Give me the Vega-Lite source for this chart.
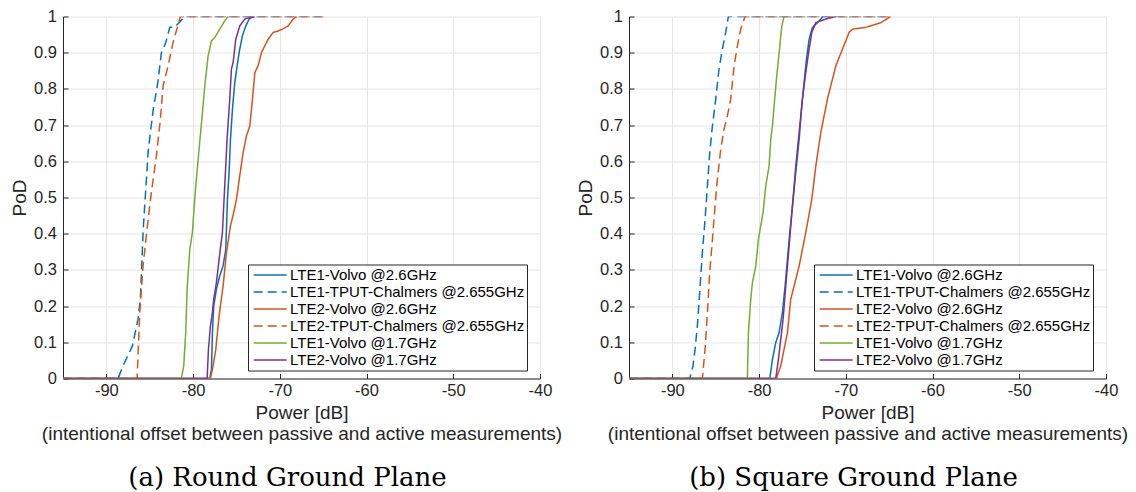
{
  "$schema": "https://vega.github.io/schema/vega-lite/v6.json",
  "background": "white",
  "padding": {"left": 10, "top": 8.5, "right": 5, "bottom": 5},
  "config": {
    "view": {"stroke": null},
    "font": "Liberation Sans",
    "axis": {
      "domainColor": "#262626", "domainWidth": 1,
      "tickColor": "#262626", "tickSize": -5, "tickWidth": 1,
      "labelFont": "Liberation Sans", "labelFontSize": 16.5, "labelColor": "#262626",
      "titleFont": "Liberation Sans", "titleFontSize": 19, "titleFontWeight": "normal", "titleColor": "#262626",
      "gridColor": "#e5e5e5", "gridWidth": 1,
      "labelFlush": false, "labelOverlap": false, "labelBound": false
    },
    "legend": {
      "orient": "none", "legendX": 185, "legendY": 248,
      "symbolType": "M-2.2,0L2.2,0", "symbolSize": 225, "symbolStrokeWidth": 1.5, "symbolOffset": 11.7,
      "labelFont": "Liberation Sans", "labelFontSize": 15, "labelColor": "#000000", "labelOffset": 11.3,
      "padding": 2, "rowPadding": 0,
      "strokeColor": "#262626", "fillColor": "white", "cornerRadius": 0, "labelLimit": 400
    }
  },
  "data": {"values": [
    {"p":"a","s":"LTE1-Volvo @2.6GHz","x":-95,"y":0},{"p":"a","s":"LTE1-Volvo @2.6GHz","x":-78.08,"y":0},{"p":"a","s":"LTE1-Volvo @2.6GHz","x":-77.88,"y":0.026},{"p":"a","s":"LTE1-Volvo @2.6GHz","x":-77.77,"y":0.127},{"p":"a","s":"LTE1-Volvo @2.6GHz","x":-77.62,"y":0.2},{"p":"a","s":"LTE1-Volvo @2.6GHz","x":-77.31,"y":0.247},{"p":"a","s":"LTE1-Volvo @2.6GHz","x":-76.92,"y":0.284},{"p":"a","s":"LTE1-Volvo @2.6GHz","x":-76.54,"y":0.311},{"p":"a","s":"LTE1-Volvo @2.6GHz","x":-76.23,"y":0.357},{"p":"a","s":"LTE1-Volvo @2.6GHz","x":-76.04,"y":0.495},{"p":"a","s":"LTE1-Volvo @2.6GHz","x":-75.85,"y":0.569},{"p":"a","s":"LTE1-Volvo @2.6GHz","x":-75.69,"y":0.661},{"p":"a","s":"LTE1-Volvo @2.6GHz","x":-75.46,"y":0.744},{"p":"a","s":"LTE1-Volvo @2.6GHz","x":-75.19,"y":0.818},{"p":"a","s":"LTE1-Volvo @2.6GHz","x":-74.92,"y":0.864},{"p":"a","s":"LTE1-Volvo @2.6GHz","x":-74.62,"y":0.91},{"p":"a","s":"LTE1-Volvo @2.6GHz","x":-74.31,"y":0.947},{"p":"a","s":"LTE1-Volvo @2.6GHz","x":-73.92,"y":0.974},{"p":"a","s":"LTE1-Volvo @2.6GHz","x":-73.54,"y":0.993},{"p":"a","s":"LTE1-Volvo @2.6GHz","x":-73.08,"y":1},
    {"p":"a","s":"LTE1-TPUT-Chalmers @2.655GHz","x":-95,"y":0},{"p":"a","s":"LTE1-TPUT-Chalmers @2.655GHz","x":-88.65,"y":0},{"p":"a","s":"LTE1-TPUT-Chalmers @2.655GHz","x":-88.08,"y":0.035},{"p":"a","s":"LTE1-TPUT-Chalmers @2.655GHz","x":-87.0,"y":0.09},{"p":"a","s":"LTE1-TPUT-Chalmers @2.655GHz","x":-86.35,"y":0.164},{"p":"a","s":"LTE1-TPUT-Chalmers @2.655GHz","x":-86.08,"y":0.219},{"p":"a","s":"LTE1-TPUT-Chalmers @2.655GHz","x":-85.92,"y":0.311},{"p":"a","s":"LTE1-TPUT-Chalmers @2.655GHz","x":-85.77,"y":0.403},{"p":"a","s":"LTE1-TPUT-Chalmers @2.655GHz","x":-85.58,"y":0.477},{"p":"a","s":"LTE1-TPUT-Chalmers @2.655GHz","x":-85.38,"y":0.551},{"p":"a","s":"LTE1-TPUT-Chalmers @2.655GHz","x":-85.19,"y":0.624},{"p":"a","s":"LTE1-TPUT-Chalmers @2.655GHz","x":-84.92,"y":0.68},{"p":"a","s":"LTE1-TPUT-Chalmers @2.655GHz","x":-84.54,"y":0.753},{"p":"a","s":"LTE1-TPUT-Chalmers @2.655GHz","x":-84.12,"y":0.808},{"p":"a","s":"LTE1-TPUT-Chalmers @2.655GHz","x":-83.65,"y":0.9},{"p":"a","s":"LTE1-TPUT-Chalmers @2.655GHz","x":-83.15,"y":0.928},{"p":"a","s":"LTE1-TPUT-Chalmers @2.655GHz","x":-82.69,"y":0.97},{"p":"a","s":"LTE1-TPUT-Chalmers @2.655GHz","x":-82.12,"y":0.97},{"p":"a","s":"LTE1-TPUT-Chalmers @2.655GHz","x":-80.96,"y":1},{"p":"a","s":"LTE1-TPUT-Chalmers @2.655GHz","x":-65,"y":1},
    {"p":"a","s":"LTE2-Volvo @2.6GHz","x":-95,"y":0},{"p":"a","s":"LTE2-Volvo @2.6GHz","x":-78.0,"y":0},{"p":"a","s":"LTE2-Volvo @2.6GHz","x":-77.69,"y":0.035},{"p":"a","s":"LTE2-Volvo @2.6GHz","x":-77.38,"y":0.081},{"p":"a","s":"LTE2-Volvo @2.6GHz","x":-77.0,"y":0.173},{"p":"a","s":"LTE2-Volvo @2.6GHz","x":-76.54,"y":0.256},{"p":"a","s":"LTE2-Volvo @2.6GHz","x":-76.15,"y":0.348},{"p":"a","s":"LTE2-Volvo @2.6GHz","x":-75.69,"y":0.422},{"p":"a","s":"LTE2-Volvo @2.6GHz","x":-75.31,"y":0.459},{"p":"a","s":"LTE2-Volvo @2.6GHz","x":-75.0,"y":0.495},{"p":"a","s":"LTE2-Volvo @2.6GHz","x":-74.62,"y":0.56},{"p":"a","s":"LTE2-Volvo @2.6GHz","x":-74.23,"y":0.624},{"p":"a","s":"LTE2-Volvo @2.6GHz","x":-73.85,"y":0.67},{"p":"a","s":"LTE2-Volvo @2.6GHz","x":-73.46,"y":0.698},{"p":"a","s":"LTE2-Volvo @2.6GHz","x":-73.15,"y":0.772},{"p":"a","s":"LTE2-Volvo @2.6GHz","x":-72.88,"y":0.845},{"p":"a","s":"LTE2-Volvo @2.6GHz","x":-72.5,"y":0.864},{"p":"a","s":"LTE2-Volvo @2.6GHz","x":-72.12,"y":0.9},{"p":"a","s":"LTE2-Volvo @2.6GHz","x":-71.73,"y":0.919},{"p":"a","s":"LTE2-Volvo @2.6GHz","x":-71.35,"y":0.937},{"p":"a","s":"LTE2-Volvo @2.6GHz","x":-70.77,"y":0.956},{"p":"a","s":"LTE2-Volvo @2.6GHz","x":-70.19,"y":0.96},{"p":"a","s":"LTE2-Volvo @2.6GHz","x":-69.69,"y":0.965},{"p":"a","s":"LTE2-Volvo @2.6GHz","x":-69.04,"y":0.974},{"p":"a","s":"LTE2-Volvo @2.6GHz","x":-68.46,"y":0.993},{"p":"a","s":"LTE2-Volvo @2.6GHz","x":-68.0,"y":1},
    {"p":"a","s":"LTE2-TPUT-Chalmers @2.655GHz","x":-95,"y":0},{"p":"a","s":"LTE2-TPUT-Chalmers @2.655GHz","x":-86.46,"y":0},{"p":"a","s":"LTE2-TPUT-Chalmers @2.655GHz","x":-86.15,"y":0.182},{"p":"a","s":"LTE2-TPUT-Chalmers @2.655GHz","x":-85.77,"y":0.311},{"p":"a","s":"LTE2-TPUT-Chalmers @2.655GHz","x":-85.31,"y":0.413},{"p":"a","s":"LTE2-TPUT-Chalmers @2.655GHz","x":-84.81,"y":0.514},{"p":"a","s":"LTE2-TPUT-Chalmers @2.655GHz","x":-84.23,"y":0.615},{"p":"a","s":"LTE2-TPUT-Chalmers @2.655GHz","x":-83.77,"y":0.716},{"p":"a","s":"LTE2-TPUT-Chalmers @2.655GHz","x":-83.46,"y":0.808},{"p":"a","s":"LTE2-TPUT-Chalmers @2.655GHz","x":-82.88,"y":0.864},{"p":"a","s":"LTE2-TPUT-Chalmers @2.655GHz","x":-82.31,"y":0.928},{"p":"a","s":"LTE2-TPUT-Chalmers @2.655GHz","x":-81.46,"y":1},{"p":"a","s":"LTE2-TPUT-Chalmers @2.655GHz","x":-65,"y":1},
    {"p":"a","s":"LTE1-Volvo @1.7GHz","x":-95,"y":0},{"p":"a","s":"LTE1-Volvo @1.7GHz","x":-81.35,"y":0},{"p":"a","s":"LTE1-Volvo @1.7GHz","x":-81.08,"y":0.035},{"p":"a","s":"LTE1-Volvo @1.7GHz","x":-80.85,"y":0.127},{"p":"a","s":"LTE1-Volvo @1.7GHz","x":-80.69,"y":0.247},{"p":"a","s":"LTE1-Volvo @1.7GHz","x":-80.38,"y":0.357},{"p":"a","s":"LTE1-Volvo @1.7GHz","x":-80.08,"y":0.403},{"p":"a","s":"LTE1-Volvo @1.7GHz","x":-79.92,"y":0.459},{"p":"a","s":"LTE1-Volvo @1.7GHz","x":-79.69,"y":0.532},{"p":"a","s":"LTE1-Volvo @1.7GHz","x":-79.31,"y":0.634},{"p":"a","s":"LTE1-Volvo @1.7GHz","x":-78.92,"y":0.735},{"p":"a","s":"LTE1-Volvo @1.7GHz","x":-78.65,"y":0.808},{"p":"a","s":"LTE1-Volvo @1.7GHz","x":-78.27,"y":0.891},{"p":"a","s":"LTE1-Volvo @1.7GHz","x":-77.88,"y":0.933},{"p":"a","s":"LTE1-Volvo @1.7GHz","x":-77.5,"y":0.942},{"p":"a","s":"LTE1-Volvo @1.7GHz","x":-76.92,"y":0.965},{"p":"a","s":"LTE1-Volvo @1.7GHz","x":-76.35,"y":0.988},{"p":"a","s":"LTE1-Volvo @1.7GHz","x":-75.96,"y":1},
    {"p":"a","s":"LTE2-Volvo @1.7GHz","x":-95,"y":0},{"p":"a","s":"LTE2-Volvo @1.7GHz","x":-78.38,"y":0},{"p":"a","s":"LTE2-Volvo @1.7GHz","x":-78.23,"y":0.081},{"p":"a","s":"LTE2-Volvo @1.7GHz","x":-78.0,"y":0.145},{"p":"a","s":"LTE2-Volvo @1.7GHz","x":-77.77,"y":0.182},{"p":"a","s":"LTE2-Volvo @1.7GHz","x":-77.62,"y":0.219},{"p":"a","s":"LTE2-Volvo @1.7GHz","x":-77.31,"y":0.265},{"p":"a","s":"LTE2-Volvo @1.7GHz","x":-77.0,"y":0.33},{"p":"a","s":"LTE2-Volvo @1.7GHz","x":-76.62,"y":0.403},{"p":"a","s":"LTE2-Volvo @1.7GHz","x":-76.35,"y":0.532},{"p":"a","s":"LTE2-Volvo @1.7GHz","x":-76.08,"y":0.661},{"p":"a","s":"LTE2-Volvo @1.7GHz","x":-75.77,"y":0.772},{"p":"a","s":"LTE2-Volvo @1.7GHz","x":-75.58,"y":0.855},{"p":"a","s":"LTE2-Volvo @1.7GHz","x":-75.38,"y":0.873},{"p":"a","s":"LTE2-Volvo @1.7GHz","x":-75.08,"y":0.937},{"p":"a","s":"LTE2-Volvo @1.7GHz","x":-74.62,"y":0.974},{"p":"a","s":"LTE2-Volvo @1.7GHz","x":-74.04,"y":0.993},{"p":"a","s":"LTE2-Volvo @1.7GHz","x":-72.88,"y":1},

    {"p":"b","s":"LTE1-Volvo @2.6GHz","x":-95,"y":0},{"p":"b","s":"LTE1-Volvo @2.6GHz","x":-78.77,"y":0},{"p":"b","s":"LTE1-Volvo @2.6GHz","x":-78.46,"y":0.053},{"p":"b","s":"LTE1-Volvo @2.6GHz","x":-78.08,"y":0.099},{"p":"b","s":"LTE1-Volvo @2.6GHz","x":-77.69,"y":0.127},{"p":"b","s":"LTE1-Volvo @2.6GHz","x":-77.31,"y":0.182},{"p":"b","s":"LTE1-Volvo @2.6GHz","x":-77.0,"y":0.256},{"p":"b","s":"LTE1-Volvo @2.6GHz","x":-76.73,"y":0.33},{"p":"b","s":"LTE1-Volvo @2.6GHz","x":-76.46,"y":0.403},{"p":"b","s":"LTE1-Volvo @2.6GHz","x":-76.15,"y":0.477},{"p":"b","s":"LTE1-Volvo @2.6GHz","x":-75.77,"y":0.569},{"p":"b","s":"LTE1-Volvo @2.6GHz","x":-75.38,"y":0.661},{"p":"b","s":"LTE1-Volvo @2.6GHz","x":-75.08,"y":0.753},{"p":"b","s":"LTE1-Volvo @2.6GHz","x":-74.81,"y":0.818},{"p":"b","s":"LTE1-Volvo @2.6GHz","x":-74.54,"y":0.882},{"p":"b","s":"LTE1-Volvo @2.6GHz","x":-74.23,"y":0.937},{"p":"b","s":"LTE1-Volvo @2.6GHz","x":-73.85,"y":0.97},{"p":"b","s":"LTE1-Volvo @2.6GHz","x":-73.27,"y":0.983},{"p":"b","s":"LTE1-Volvo @2.6GHz","x":-72.88,"y":0.993},{"p":"b","s":"LTE1-Volvo @2.6GHz","x":-72.62,"y":1},
    {"p":"b","s":"LTE1-TPUT-Chalmers @2.655GHz","x":-95,"y":0},{"p":"b","s":"LTE1-TPUT-Chalmers @2.655GHz","x":-88.0,"y":0},{"p":"b","s":"LTE1-TPUT-Chalmers @2.655GHz","x":-87.62,"y":0.035},{"p":"b","s":"LTE1-TPUT-Chalmers @2.655GHz","x":-87.38,"y":0.081},{"p":"b","s":"LTE1-TPUT-Chalmers @2.655GHz","x":-87.12,"y":0.145},{"p":"b","s":"LTE1-TPUT-Chalmers @2.655GHz","x":-86.85,"y":0.238},{"p":"b","s":"LTE1-TPUT-Chalmers @2.655GHz","x":-86.54,"y":0.348},{"p":"b","s":"LTE1-TPUT-Chalmers @2.655GHz","x":-86.23,"y":0.44},{"p":"b","s":"LTE1-TPUT-Chalmers @2.655GHz","x":-85.96,"y":0.532},{"p":"b","s":"LTE1-TPUT-Chalmers @2.655GHz","x":-85.69,"y":0.624},{"p":"b","s":"LTE1-TPUT-Chalmers @2.655GHz","x":-85.38,"y":0.698},{"p":"b","s":"LTE1-TPUT-Chalmers @2.655GHz","x":-85.0,"y":0.772},{"p":"b","s":"LTE1-TPUT-Chalmers @2.655GHz","x":-84.62,"y":0.855},{"p":"b","s":"LTE1-TPUT-Chalmers @2.655GHz","x":-84.23,"y":0.91},{"p":"b","s":"LTE1-TPUT-Chalmers @2.655GHz","x":-83.85,"y":0.956},{"p":"b","s":"LTE1-TPUT-Chalmers @2.655GHz","x":-83.54,"y":1},{"p":"b","s":"LTE1-TPUT-Chalmers @2.655GHz","x":-65,"y":1},
    {"p":"b","s":"LTE2-Volvo @2.6GHz","x":-95,"y":0},{"p":"b","s":"LTE2-Volvo @2.6GHz","x":-78.0,"y":0},{"p":"b","s":"LTE2-Volvo @2.6GHz","x":-77.5,"y":0.035},{"p":"b","s":"LTE2-Volvo @2.6GHz","x":-76.73,"y":0.127},{"p":"b","s":"LTE2-Volvo @2.6GHz","x":-76.35,"y":0.219},{"p":"b","s":"LTE2-Volvo @2.6GHz","x":-75.38,"y":0.311},{"p":"b","s":"LTE2-Volvo @2.6GHz","x":-74.62,"y":0.403},{"p":"b","s":"LTE2-Volvo @2.6GHz","x":-73.92,"y":0.495},{"p":"b","s":"LTE2-Volvo @2.6GHz","x":-73.46,"y":0.587},{"p":"b","s":"LTE2-Volvo @2.6GHz","x":-72.88,"y":0.68},{"p":"b","s":"LTE2-Volvo @2.6GHz","x":-72.12,"y":0.772},{"p":"b","s":"LTE2-Volvo @2.6GHz","x":-71.15,"y":0.864},{"p":"b","s":"LTE2-Volvo @2.6GHz","x":-70.38,"y":0.91},{"p":"b","s":"LTE2-Volvo @2.6GHz","x":-69.62,"y":0.956},{"p":"b","s":"LTE2-Volvo @2.6GHz","x":-69.23,"y":0.965},{"p":"b","s":"LTE2-Volvo @2.6GHz","x":-67.69,"y":0.97},{"p":"b","s":"LTE2-Volvo @2.6GHz","x":-65.96,"y":0.983},{"p":"b","s":"LTE2-Volvo @2.6GHz","x":-64.81,"y":1},
    {"p":"b","s":"LTE2-TPUT-Chalmers @2.655GHz","x":-95,"y":0},{"p":"b","s":"LTE2-TPUT-Chalmers @2.655GHz","x":-86.54,"y":0},{"p":"b","s":"LTE2-TPUT-Chalmers @2.655GHz","x":-86.23,"y":0.081},{"p":"b","s":"LTE2-TPUT-Chalmers @2.655GHz","x":-85.96,"y":0.182},{"p":"b","s":"LTE2-TPUT-Chalmers @2.655GHz","x":-85.69,"y":0.293},{"p":"b","s":"LTE2-TPUT-Chalmers @2.655GHz","x":-85.38,"y":0.385},{"p":"b","s":"LTE2-TPUT-Chalmers @2.655GHz","x":-85.08,"y":0.477},{"p":"b","s":"LTE2-TPUT-Chalmers @2.655GHz","x":-84.81,"y":0.551},{"p":"b","s":"LTE2-TPUT-Chalmers @2.655GHz","x":-84.42,"y":0.634},{"p":"b","s":"LTE2-TPUT-Chalmers @2.655GHz","x":-84.04,"y":0.689},{"p":"b","s":"LTE2-TPUT-Chalmers @2.655GHz","x":-83.65,"y":0.726},{"p":"b","s":"LTE2-TPUT-Chalmers @2.655GHz","x":-83.27,"y":0.772},{"p":"b","s":"LTE2-TPUT-Chalmers @2.655GHz","x":-82.88,"y":0.864},{"p":"b","s":"LTE2-TPUT-Chalmers @2.655GHz","x":-82.5,"y":0.919},{"p":"b","s":"LTE2-TPUT-Chalmers @2.655GHz","x":-82.12,"y":0.965},{"p":"b","s":"LTE2-TPUT-Chalmers @2.655GHz","x":-81.62,"y":1},{"p":"b","s":"LTE2-TPUT-Chalmers @2.655GHz","x":-65,"y":1},
    {"p":"b","s":"LTE1-Volvo @1.7GHz","x":-95,"y":0},{"p":"b","s":"LTE1-Volvo @1.7GHz","x":-81.35,"y":0},{"p":"b","s":"LTE1-Volvo @1.7GHz","x":-81.23,"y":0.127},{"p":"b","s":"LTE1-Volvo @1.7GHz","x":-80.96,"y":0.219},{"p":"b","s":"LTE1-Volvo @1.7GHz","x":-80.77,"y":0.265},{"p":"b","s":"LTE1-Volvo @1.7GHz","x":-80.38,"y":0.311},{"p":"b","s":"LTE1-Volvo @1.7GHz","x":-80.08,"y":0.385},{"p":"b","s":"LTE1-Volvo @1.7GHz","x":-79.81,"y":0.422},{"p":"b","s":"LTE1-Volvo @1.7GHz","x":-79.54,"y":0.459},{"p":"b","s":"LTE1-Volvo @1.7GHz","x":-79.23,"y":0.532},{"p":"b","s":"LTE1-Volvo @1.7GHz","x":-78.85,"y":0.587},{"p":"b","s":"LTE1-Volvo @1.7GHz","x":-78.65,"y":0.661},{"p":"b","s":"LTE1-Volvo @1.7GHz","x":-78.46,"y":0.698},{"p":"b","s":"LTE1-Volvo @1.7GHz","x":-78.27,"y":0.753},{"p":"b","s":"LTE1-Volvo @1.7GHz","x":-78.0,"y":0.827},{"p":"b","s":"LTE1-Volvo @1.7GHz","x":-77.69,"y":0.9},{"p":"b","s":"LTE1-Volvo @1.7GHz","x":-77.38,"y":0.974},{"p":"b","s":"LTE1-Volvo @1.7GHz","x":-77.12,"y":1},
    {"p":"b","s":"LTE2-Volvo @1.7GHz","x":-95,"y":0},{"p":"b","s":"LTE2-Volvo @1.7GHz","x":-78.08,"y":0},{"p":"b","s":"LTE2-Volvo @1.7GHz","x":-77.77,"y":0.053},{"p":"b","s":"LTE2-Volvo @1.7GHz","x":-77.5,"y":0.109},{"p":"b","s":"LTE2-Volvo @1.7GHz","x":-77.23,"y":0.164},{"p":"b","s":"LTE2-Volvo @1.7GHz","x":-76.92,"y":0.256},{"p":"b","s":"LTE2-Volvo @1.7GHz","x":-76.54,"y":0.366},{"p":"b","s":"LTE2-Volvo @1.7GHz","x":-76.15,"y":0.477},{"p":"b","s":"LTE2-Volvo @1.7GHz","x":-75.77,"y":0.587},{"p":"b","s":"LTE2-Volvo @1.7GHz","x":-75.38,"y":0.68},{"p":"b","s":"LTE2-Volvo @1.7GHz","x":-75.0,"y":0.772},{"p":"b","s":"LTE2-Volvo @1.7GHz","x":-74.62,"y":0.845},{"p":"b","s":"LTE2-Volvo @1.7GHz","x":-74.23,"y":0.91},{"p":"b","s":"LTE2-Volvo @1.7GHz","x":-73.92,"y":0.956},{"p":"b","s":"LTE2-Volvo @1.7GHz","x":-73.46,"y":0.983},{"p":"b","s":"LTE2-Volvo @1.7GHz","x":-72.31,"y":0.993},{"p":"b","s":"LTE2-Volvo @1.7GHz","x":-71.15,"y":1}
  ]},
  "bounds": "flush",
  "spacing": 89,
  "resolve": {
    "scale": {"color": "independent", "strokeDash": "independent"},
    "legend": {"color": "independent", "strokeDash": "independent"}
  },
  "hconcat": [
    {
      "width": 477, "height": 362,
      "title": {"text": "(a) Round Ground Plane", "orient": "bottom", "anchor": "middle", "frame": "group", "dx": -14, "font": "DejaVu Serif", "fontSize": 26, "fontWeight": "normal", "color": "#000000", "offset": 22},
      "transform": [{"filter": "datum.p == 'a'"}],
      "mark": {"type": "line", "strokeWidth": 1.5, "clip": true},
      "encoding": {
        "x": {"field": "x", "type": "quantitative", "scale": {"domain": [-95, -40], "nice": false, "zero": false},
              "axis": {"values": [-90, -80, -70, -60, -50, -40], "labelExpr": "'' + datum.value", "labelPadding": 9, "title": ["Power [dB]", "(intentional offset between passive and active measurements)"], "titleLineHeight": 21, "titlePadding": 4}},
        "y": {"field": "y", "type": "quantitative", "scale": {"domain": [0, 1], "nice": false},
              "axis": {"values": [0, 0.1, 0.2, 0.3, 0.4, 0.5, 0.6, 0.7, 0.8, 0.9, 1], "format": "~g", "labelPadding": 11.6, "title": "PoD", "titlePadding": 4}},
        "color": {"field": "s", "type": "nominal",
                  "scale": {"domain": ["LTE1-Volvo @2.6GHz", "LTE1-TPUT-Chalmers @2.655GHz", "LTE2-Volvo @2.6GHz", "LTE2-TPUT-Chalmers @2.655GHz", "LTE1-Volvo @1.7GHz", "LTE2-Volvo @1.7GHz"],
                            "range": ["#0072BD", "#0072BD", "#D95319", "#D95319", "#77AC30", "#7E2F8E"]},
                  "legend": {"title": null}},
        "strokeDash": {"field": "s", "type": "nominal",
                  "scale": {"domain": ["LTE1-Volvo @2.6GHz", "LTE1-TPUT-Chalmers @2.655GHz", "LTE2-Volvo @2.6GHz", "LTE2-TPUT-Chalmers @2.655GHz", "LTE1-Volvo @1.7GHz", "LTE2-Volvo @1.7GHz"],
                            "range": [[1, 0], [9, 5], [1, 0], [9, 5], [1, 0], [1, 0]]},
                  "legend": {"title": null}}
      }
    },
    {
      "width": 477, "height": 362,
      "title": {"text": "(b) Square Ground Plane", "orient": "bottom", "anchor": "middle", "frame": "group", "dx": -14, "font": "DejaVu Serif", "fontSize": 26, "fontWeight": "normal", "color": "#000000", "offset": 22},
      "transform": [{"filter": "datum.p == 'b'"}],
      "mark": {"type": "line", "strokeWidth": 1.5, "clip": true},
      "encoding": {
        "x": {"field": "x", "type": "quantitative", "scale": {"domain": [-95, -40], "nice": false, "zero": false},
              "axis": {"values": [-90, -80, -70, -60, -50, -40], "labelExpr": "'' + datum.value", "labelPadding": 9, "title": ["Power [dB]", "(intentional offset between passive and active measurements)"], "titleLineHeight": 21, "titlePadding": 4}},
        "y": {"field": "y", "type": "quantitative", "scale": {"domain": [0, 1], "nice": false},
              "axis": {"values": [0, 0.1, 0.2, 0.3, 0.4, 0.5, 0.6, 0.7, 0.8, 0.9, 1], "format": "~g", "labelPadding": 11.6, "title": "PoD", "titlePadding": 4}},
        "color": {"field": "s", "type": "nominal",
                  "scale": {"domain": ["LTE1-Volvo @2.6GHz", "LTE1-TPUT-Chalmers @2.655GHz", "LTE2-Volvo @2.6GHz", "LTE2-TPUT-Chalmers @2.655GHz", "LTE1-Volvo @1.7GHz", "LTE2-Volvo @1.7GHz"],
                            "range": ["#0072BD", "#0072BD", "#D95319", "#D95319", "#77AC30", "#7E2F8E"]},
                  "legend": {"title": null}},
        "strokeDash": {"field": "s", "type": "nominal",
                  "scale": {"domain": ["LTE1-Volvo @2.6GHz", "LTE1-TPUT-Chalmers @2.655GHz", "LTE2-Volvo @2.6GHz", "LTE2-TPUT-Chalmers @2.655GHz", "LTE1-Volvo @1.7GHz", "LTE2-Volvo @1.7GHz"],
                            "range": [[1, 0], [9, 5], [1, 0], [9, 5], [1, 0], [1, 0]]},
                  "legend": {"title": null}}
      }
    }
  ]
}
